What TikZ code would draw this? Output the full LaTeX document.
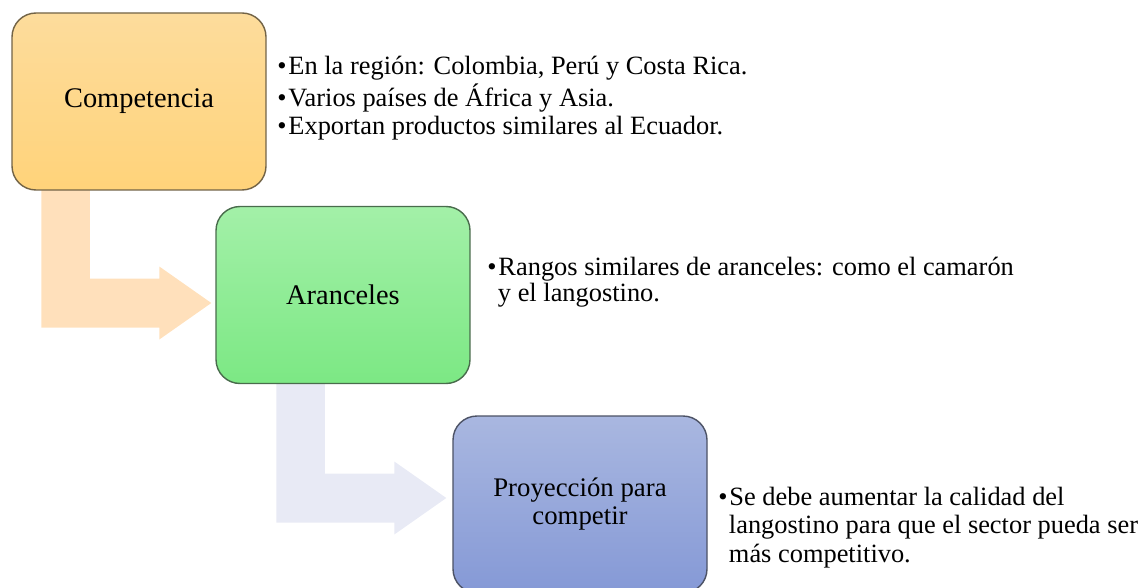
\documentclass[tikz,border=0pt]{standalone}
\usepackage{fontspec}
\setmainfont{Liberation Serif}
\usetikzlibrary{positioning,calc,backgrounds}
\definecolor{CompTop}{RGB}{253,220,156}
\definecolor{CompBot}{RGB}{255,211,122}
\definecolor{AranTop}{RGB}{163,240,168}
\definecolor{AranBot}{RGB}{124,232,132}
\definecolor{ProyTop}{RGB}{169,183,224}
\definecolor{ProyBot}{RGB}{133,153,214}
\definecolor{PeachArrow}{RGB}{255,224,187}
\definecolor{MistArrow}{RGB}{232,234,245}
\tikzset{
	stage/.style={rectangle,rounded corners=12pt,minimum width=127pt,minimum height=88.5pt,
		line width=0.7pt,align=center,font=\fontsize{14.2}{15.5}\selectfont},
	note/.style={anchor=base west,inner sep=0pt,font=\fontsize{13.2}{14.3}\selectfont},
}
\newcommand{\bul}{\makebox[0.42em][l]{\textbullet}}
% bent arrow: colour, from node, shaft offset, tip
\newcommand{\bendarrow}[4]{%
	\fill[#1] ($(#2.south west)+(#3,-10)$) coordinate (s) -- ++(48.5,0)
		|- ($(#4)+(-52,-24.5)$) -- ($(#4)+(-52,-36.5)$) -- (#4)
		-- ($(#4)+(-52,36.5)$) -- ($(#4)+(-52,24.5)$) -| (s) -- cycle;}

\begin{document}
\begin{tikzpicture}[x=0.5pt,y=-0.5pt]
	\useasboundingbox (0,0) rectangle (1144,588);
	\node[stage,top color=CompTop,bottom color=CompBot,draw=CompTop!45!black] (comp) at (139,101.5) {Competencia};
	\node[stage,top color=AranTop,bottom color=AranBot,draw=AranTop!45!black] (aran) at (343,295) {Aranceles};
	\node[stage,top color=ProyTop,bottom color=ProyBot,draw=ProyTop!45!black,
		font=\fontsize{13.4}{14}\selectfont] (proy) at (580,504.5) {Proyección para\\competir};
	\node[note] (compnote) at (277,75) {\begin{tabular}[t]{@{}l@{}}
		\bul En la región: Colombia, Perú y Costa Rica.\\
		\bul Varios países de África y Asia.\\
		\bul Exportan productos similares al Ecuador.\end{tabular}};
	\node[note,font=\fontsize{13.2}{13.3}\selectfont] (arannote) at (487,275) {\begin{tabular}[t]{@{}l@{}}
		\bul Rangos similares de aranceles: como el camarón\\
		\hspace{0.4em}y el langostino.\end{tabular}};
	\node[note] (proynote) at (718,505) {\begin{tabular}[t]{@{}l@{}}
		\bul Se debe aumentar la calidad del\\
		\hspace{0.4em}langostino para que el sector pueda ser\\
		\hspace{0.4em}más competitivo.\end{tabular}};
	\begin{scope}[on background layer]
		\coordinate (tipA) at ($(aran.west)+(-4,8)$);
		\coordinate (tipB) at ($(proy.west)+(-6,-6.5)$);
		\bendarrow{PeachArrow}{comp}{30}{tipA}
		\bendarrow{MistArrow}{aran}{61}{tipB}
	\end{scope}
\end{tikzpicture}
\end{document}
